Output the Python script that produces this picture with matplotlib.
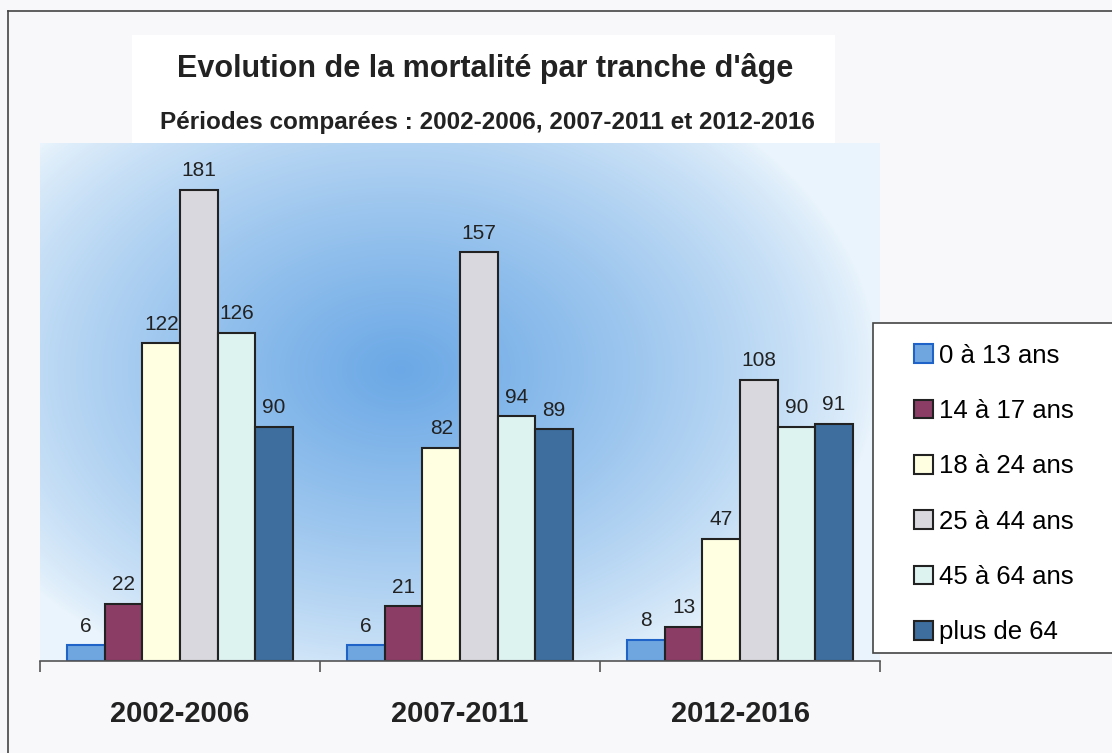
import matplotlib.pyplot as plt
import numpy as np
from matplotlib.patches import Rectangle, Patch
from matplotlib.lines import Line2D

periods = ['2002-2006', '2007-2011', '2012-2016']
ages = ['0 à 13 ans', '14 à 17 ans', '18 à 24 ans', '25 à 44 ans', '45 à 64 ans', 'plus de 64']
age_0_13 = [6, 6, 8]
age_14_17 = [22, 21, 13]
age_18_24 = [122, 82, 47]
age_25_44 = [181, 157, 108]
age_45_64 = [126, 94, 90]
age_64_plus = [90, 89, 91]

series = [age_0_13, age_14_17, age_18_24, age_25_44, age_45_64, age_64_plus]
colors = ['#6fa6e0', '#8b3d66', '#ffffe2', '#d8d8de', '#ddf3f0', '#3d6e9e']
edges = ['#1f63c8', '#222222', '#222222', '#222222', '#222222', '#222222']

plt.rcParams['font.family'] = ['Liberation Sans', 'DejaVu Sans']

W, H = 1112, 753
fig = plt.figure(figsize=(W / 100, H / 100), dpi=100)
fig.patch.set_facecolor('#f8f8fa')

# frame lines of the scanned page
fig.add_artist(Line2D([8 / W, 8 / W], [0, 1 - 11 / H], transform=fig.transFigure, color='#444444', lw=1.2))
fig.add_artist(Line2D([8 / W, 1], [1 - 11 / H, 1 - 11 / H], transform=fig.transFigure, color='#444444', lw=1.2))

# white title box
fig.add_artist(Rectangle((132 / W, 1 - 145 / H), (835 - 132) / W, (145 - 35) / H,
                         transform=fig.transFigure, facecolor='white', edgecolor='none', zorder=0))

ymax = 199
ax = fig.add_axes([40 / W, (H - 661) / H, 840 / W, 518 / H])
ax.set_xlim(0, 3)
ax.set_ylim(0, ymax)

# radial blue background
xs = np.linspace(0, 3, 400)
ys = np.linspace(0, ymax, 300)
X, Y = np.meshgrid(xs, ys)
px = 40 + X * 280
py = 661 - Y * 2.6
d = np.sqrt(((px - 400) / 480) ** 2 + ((py - 370) / 340) ** 2)
t = np.clip(1 - d, 0, 1) ** 0.75
c_edge = np.array([0.92, 0.96, 0.99])
c_mid = np.array([0.42, 0.66, 0.90])
img = c_edge + (c_mid - c_edge) * t[..., None]
ax.imshow(img, extent=(0, 3, 0, ymax), origin='lower', aspect='auto', zorder=0)

w = 0.134
x = np.arange(len(periods)) + 0.5
for i, vals in enumerate(series):
    pos = x + (i - 2.5) * w
    bars = ax.bar(pos, vals, width=w, color=colors[i], edgecolor=edges[i], linewidth=1.5, zorder=2)
    for b, v in zip(bars, vals):
        ax.annotate(str(v), (b.get_x() + b.get_width() / 2, v), xytext=(0, 7), textcoords='offset points',
                    ha='center', va='bottom', fontsize=15, color='#222222', zorder=3)

for s in ['top', 'right', 'left']:
    ax.spines[s].set_visible(False)
ax.spines['bottom'].set_color('#555555')
ax.spines['bottom'].set_linewidth(1.2)
ax.set_yticks([])
ax.set_xticks([0, 1, 2, 3])
ax.set_xticklabels([])
ax.tick_params(axis='x', which='major', length=8, width=1.2, color='#555555', direction='out')
ax.set_xticks(x, minor=True)
ax.set_xticklabels(periods, minor=True, fontsize=21, fontweight='bold', color='#222222')
ax.tick_params(axis='x', which='minor', length=0, pad=28)

fig.text(485 / W, 1 - 68 / H, "Evolution de la mortalité par tranche d'âge", ha='center', va='center',
         fontsize=22, fontweight='bold', color='#222222')
fig.text(487 / W, 1 - 122 / H, 'Périodes comparées : 2002-2006, 2007-2011 et 2012-2016', ha='center',
         va='center', fontsize=17.5, fontweight='bold', color='#222222')

# legend frame runs off the right edge
fig.add_artist(Rectangle((873 / W, 1 - 653 / H), 300 / W, (653 - 323) / H, transform=fig.transFigure,
                         facecolor='white', edgecolor='#444444', linewidth=1.2, zorder=4))
handles = [Patch(facecolor=colors[i], edgecolor=edges[i], linewidth=1.5) for i in range(len(ages))]
leg = fig.legend(handles, ages, loc='upper left', bbox_to_anchor=(893 / W, 1 - 323 / H), frameon=False,
                 fontsize=18.5, handlelength=0.75, handleheight=0.75, handletextpad=0.25, labelspacing=1.22,
                 borderpad=0.3)
leg.set_zorder(5)

fig.savefig('out.png', dpi=100, facecolor=fig.get_facecolor())
